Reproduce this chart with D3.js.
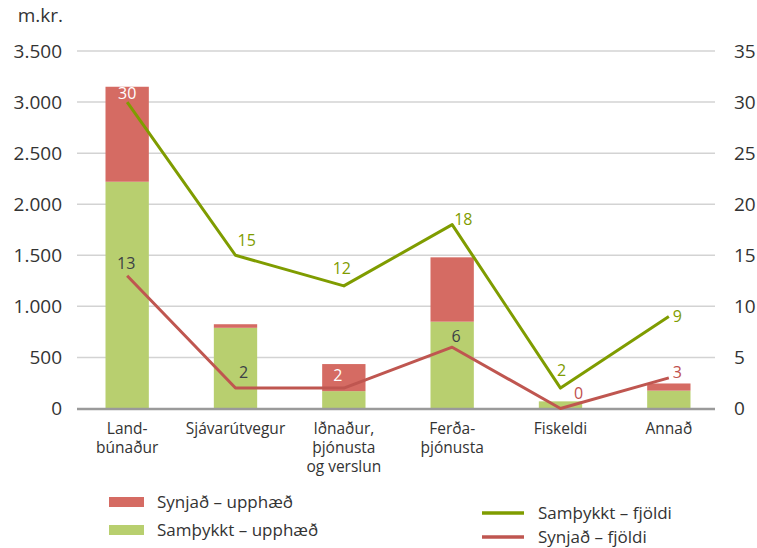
<!DOCTYPE html>
<html>
<head>
    <meta charset="utf-8">
    <title></title>
    <script src="https://d3js.org/d3.v7.min.js"></script>
    <style>
        html, body { margin: 0; padding: 0; background: #fff; }
        text { font-family: "Open Sans", sans-serif; }
    </style>
</head>
<body>
    <div id="chart"></div>
    <script>
        // Data
        const categories = [["Land-", "búnaður"], ["Sjávarútvegur"], ["Iðnaður,", "þjónusta", "og verslun"],
            ["Ferða-", "þjónusta"], ["Fiskeldi"], ["Annað"]];
        const samthykktUpphaed = [2220, 790, 170, 850, 70, 175];
        const synjadUpphaed = [930, 35, 265, 630, 0, 70];
        const samthykktFjoldi = [30, 15, 12, 18, 2, 9];
        const synjadFjoldi = [13, 2, 2, 6, 0, 3];
        const leftTicks = [0, 500, 1000, 1500, 2000, 2500, 3000, 3500];
        const rightTicks = [0, 5, 10, 15, 20, 25, 30, 35];

        // Label placement (offsets from the point) and colours
        const samthykktLabelStyle = [
            { dx: 0, dy: -3, anchor: "middle", color: "#ffffff" },
            { dx: 2, dy: -9, anchor: "start", color: "#7f9c00" },
            { dx: -2, dy: -12, anchor: "middle", color: "#7f9c00" },
            { dx: 2, dy: -0, anchor: "start", color: "#7f9c00" },
            { dx: 1, dy: -12, anchor: "middle", color: "#7f9c00" },
            { dx: 4, dy: 5, anchor: "start", color: "#7f9c00" }
        ];
        const synjadLabelStyle = [
            { dx: -1, dy: -7, anchor: "middle", color: "#3c4146" },
            { dx: 8, dy: -10, anchor: "middle", color: "#3c4146" },
            { dx: -6, dy: -7, anchor: "middle", color: "#ffffff" },
            { dx: 4, dy: -5, anchor: "middle", color: "#3c4146" },
            { dx: 18, dy: -10, anchor: "middle", color: "#c0504d" },
            { dx: 4, dy: 0, anchor: "start", color: "#c0504d" }
        ];

        const colors = {
            barGreen: "#b8cf6f",
            barRed: "#d56b63",
            lineGreen: "#7f9c00",
            lineRed: "#bf5650",
            grid: "#d3d3d3",
            axis: "#9a9a9a",
            text: "#333333"
        };

        const W = 757, H = 548;
        const plot = { left: 77, right: 715, top: 51, bottom: 408.5 };

        const svg = d3.select("#chart").append("svg")
            .attr("width", W)
            .attr("height", H);

        const x = d3.scaleBand()
            .domain(d3.range(categories.length))
            .range([73, 723])
            .paddingInner(0.6)
            .paddingOuter(0.3);

        const yLeft = d3.scaleLinear().domain([0, 3500]).range([plot.bottom, plot.top]);
        const yRight = d3.scaleLinear().domain([0, 35]).range([plot.bottom, plot.top]);

        // Gridlines
        svg.append("g")
            .selectAll("line")
            .data(leftTicks.filter(d => d > 0))
            .join("line")
            .attr("x1", plot.left)
            .attr("x2", plot.right)
            .attr("y1", d => yLeft(d))
            .attr("y2", d => yLeft(d))
            .attr("stroke", colors.grid)
            .attr("stroke-width", 1.5);

        // Left axis
        const leftAxis = svg.append("g")
            .attr("transform", `translate(${plot.left},0)`)
            .call(d3.axisLeft(yLeft).tickValues(leftTicks).tickSize(0).tickPadding(15)
                .tickFormat(d => d3.format(",")(d).replace(/,/g, ".")));
        leftAxis.select(".domain").remove();
        leftAxis.selectAll("text")
            .attr("font-size", "19px")
            .attr("fill", colors.text)
            .attr("font-family", "Open Sans, sans-serif");

        // Right axis
        const rightAxis = svg.append("g")
            .attr("transform", `translate(${plot.right},0)`)
            .call(d3.axisRight(yRight).tickValues(rightTicks).tickSize(0).tickPadding(19));
        rightAxis.select(".domain").remove();
        rightAxis.selectAll("text")
            .attr("font-size", "19px")
            .attr("fill", colors.text)
            .attr("font-family", "Open Sans, sans-serif");

        svg.append("text")
            .attr("x", 63)
            .attr("y", 22)
            .attr("text-anchor", "end")
            .attr("font-size", "19px")
            .attr("fill", colors.text)
            .text("m.kr.");

        // Stacked bars
        const idx = d3.range(categories.length);
        svg.append("g").selectAll("rect")
            .data(idx)
            .join("rect")
            .attr("x", i => x(i))
            .attr("width", x.bandwidth())
            .attr("y", i => yLeft(samthykktUpphaed[i]))
            .attr("height", i => yLeft(0) - yLeft(samthykktUpphaed[i]))
            .attr("fill", colors.barGreen);

        svg.append("g").selectAll("rect")
            .data(idx)
            .join("rect")
            .attr("x", i => x(i))
            .attr("width", x.bandwidth())
            .attr("y", i => yLeft(samthykktUpphaed[i] + synjadUpphaed[i]))
            .attr("height", i => yLeft(samthykktUpphaed[i]) - yLeft(samthykktUpphaed[i] + synjadUpphaed[i]))
            .attr("fill", colors.barRed);

        // Baseline
        svg.append("line")
            .attr("x1", plot.left)
            .attr("x2", plot.right)
            .attr("y1", yLeft(0) + 0.5)
            .attr("y2", yLeft(0) + 0.5)
            .attr("stroke", colors.axis)
            .attr("stroke-width", 2.5);

        // Lines
        const cx = i => x(i) + x.bandwidth() / 2;
        const line = d3.line()
            .x((d, i) => cx(i))
            .y(d => yRight(d));

        svg.append("path")
            .datum(synjadFjoldi)
            .attr("fill", "none")
            .attr("stroke", colors.lineRed)
            .attr("stroke-width", 3)
            .attr("stroke-linejoin", "round")
            .attr("d", line);

        svg.append("path")
            .datum(samthykktFjoldi)
            .attr("fill", "none")
            .attr("stroke", colors.lineGreen)
            .attr("stroke-width", 3)
            .attr("stroke-linejoin", "round")
            .attr("d", line);

        // Data labels
        function addLabels(values, styles) {
            svg.append("g").selectAll("text")
                .data(values)
                .join("text")
                .attr("x", (d, i) => cx(i) + styles[i].dx)
                .attr("y", (d, i) => yRight(d) + styles[i].dy)
                .attr("text-anchor", (d, i) => styles[i].anchor)
                .attr("font-size", "16px")
                .attr("fill", (d, i) => styles[i].color)
                .text(d => d);
        }
        addLabels(samthykktFjoldi, samthykktLabelStyle);
        addLabels(synjadFjoldi, synjadLabelStyle);

        // Category labels
        const catG = svg.append("g").selectAll("text")
            .data(categories)
            .join("text")
            .attr("x", (d, i) => cx(i))
            .attr("y", 434)
            .attr("text-anchor", "middle")
            .attr("font-size", "15.5px")
            .attr("fill", colors.text);
        catG.selectAll("tspan")
            .data(d => d)
            .join("tspan")
            .attr("x", function () { return d3.select(this.parentNode).attr("x"); })
            .attr("dy", (d, i) => i === 0 ? 0 : 19)
            .text(d => d);

        // Legend: bars
        const barLegend = [
            { label: "Synjað – upphæð", color: colors.barRed },
            { label: "Samþykkt – upphæð", color: colors.barGreen }
        ];
        const bl = svg.append("g").selectAll("g")
            .data(barLegend)
            .join("g")
            .attr("transform", (d, i) => `translate(109,${502 + i * 28})`);
        bl.append("rect")
            .attr("x", 0).attr("y", -5)
            .attr("width", 35).attr("height", 10)
            .attr("fill", d => d.color);
        bl.append("text")
            .attr("x", 48).attr("y", 6)
            .attr("font-size", "17px")
            .attr("fill", colors.text)
            .text(d => d.label);

        // Legend: lines
        const lineLegend = [
            { label: "Samþykkt – fjöldi", color: colors.lineGreen },
            { label: "Synjað – fjöldi", color: colors.lineRed }
        ];
        const ll = svg.append("g").selectAll("g")
            .data(lineLegend)
            .join("g")
            .attr("transform", (d, i) => `translate(482,${513 + i * 24})`);
        ll.append("line")
            .attr("x1", 0).attr("x2", 42)
            .attr("y1", 0).attr("y2", 0)
            .attr("stroke", d => d.color)
            .attr("stroke-width", 3.5);
        ll.append("text")
            .attr("x", 56).attr("y", 6)
            .attr("font-size", "17px")
            .attr("fill", colors.text)
            .text(d => d.label);
    </script>
</body>
</html>
